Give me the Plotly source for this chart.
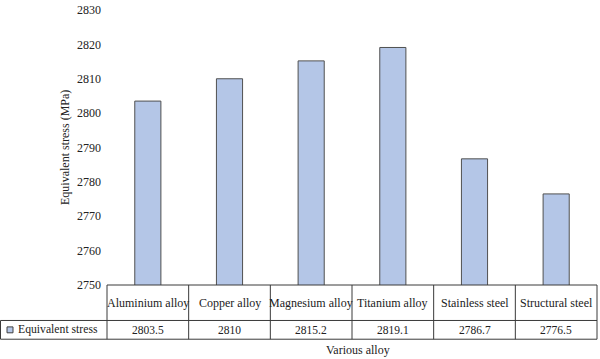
import plotly.graph_objects as go

categories = ["Aluminium alloy", "Copper alloy", "Magnesium alloy", "Titanium alloy", "Stainless steel", "Structural steel"]
values = [2803.5, 2810, 2815.2, 2819.1, 2786.7, 2776.5]
value_labels = ["2803.5", "2810", "2815.2", "2819.1", "2786.7", "2776.5"]
series_name = "Equivalent stress"
y_ticks = [2750, 2760, 2770, 2780, 2790, 2800, 2810, 2820, 2830]

W, H = 600, 359
ml, mr, mt, mb = 107, 3, 6, 74
pw, ph = W - ml - mr, H - mt - mb
FONT = "Liberation Serif"
LINE = "#3a3a3a"
BAR = "#b4c6e7"
TXT = "#222"

def py(pix):  # pixel y -> paper y
    return (H - mb - pix) / ph

def px(pix):
    return (pix - ml) / pw

fig = go.Figure()
fig.add_trace(go.Bar(x=list(range(len(categories))), y=values, name=series_name,
                     marker=dict(color=BAR, line=dict(color="#505050", width=1)),
                     width=0.32, hoverinfo="y"))

shapes = []
n = len(categories)
row1_bot = py(321)
row2_bot = py(340)
shapes.append(dict(type="line", xref="paper", yref="paper", x0=0, x1=1, y0=0, y1=0, line=dict(color=LINE, width=1)))
for yy in (row1_bot, row2_bot):
    shapes.append(dict(type="line", xref="paper", yref="paper", x0=px(0.5), x1=1, y0=yy, y1=yy, line=dict(color=LINE, width=1)))
for i in range(n + 1):
    xx = i / n
    shapes.append(dict(type="line", xref="paper", yref="paper", x0=xx, x1=xx, y0=0, y1=row2_bot, line=dict(color=LINE, width=1)))
shapes.append(dict(type="line", xref="paper", yref="paper", x0=px(0.5), x1=px(0.5), y0=row1_bot, y1=row2_bot, line=dict(color=LINE, width=1)))
shapes.append(dict(type="rect", xref="paper", yref="paper", x0=px(7), x1=px(13), y0=py(333.5), y1=py(327.5),
                   fillcolor=BAR, line=dict(color="#404040", width=1)))

annotations = []
for i, (c, v) in enumerate(zip(categories, value_labels)):
    xc = (i + 0.5) / n
    annotations.append(dict(xref="paper", yref="paper", x=xc, y=py(303), text=c, showarrow=False,
                            font=dict(family=FONT, size=12, color=TXT), xanchor="center", yanchor="middle"))
    annotations.append(dict(xref="paper", yref="paper", x=xc, y=py(330.5), text=v, showarrow=False,
                            font=dict(family=FONT, size=11.5, color=TXT), xanchor="center", yanchor="middle"))
annotations.append(dict(xref="paper", yref="paper", x=px(16), y=py(330.5), text=series_name, showarrow=False,
                        font=dict(family=FONT, size=11.7, color=TXT), xanchor="left", yanchor="middle"))
annotations.append(dict(xref="paper", yref="paper", x=px(358), y=py(351), text="Various alloy", showarrow=False,
                        font=dict(family=FONT, size=12, color=TXT), xanchor="center", yanchor="middle"))
annotations.append(dict(xref="paper", yref="paper", x=px(65), y=py(146), text="Equivalent stress (MPa)", showarrow=False,
                        textangle=-90, font=dict(family=FONT, size=12, color=TXT), xanchor="center", yanchor="middle"))

fig.update_layout(
    width=W, height=H, margin=dict(l=ml, r=mr, t=mt, b=mb),
    paper_bgcolor="white", plot_bgcolor="white", showlegend=False,
    xaxis=dict(range=[-0.5, n - 0.5], showticklabels=False, showgrid=False, zeroline=False, showline=False, ticks=""),
    yaxis=dict(range=[2750, 2830], tickvals=y_ticks, showgrid=False, zeroline=False, showline=False, ticks="",
               ticklabelstandoff=5, ticklabeloverflow="allow", tickfont=dict(family=FONT, size=12, color=TXT)),
    shapes=shapes, annotations=annotations,
    font=dict(family=FONT),
)

fig.write_html("out.html", config={"displayModeBar": False},
               post_script="document.body.style.margin='0';document.body.style.padding='0';")
